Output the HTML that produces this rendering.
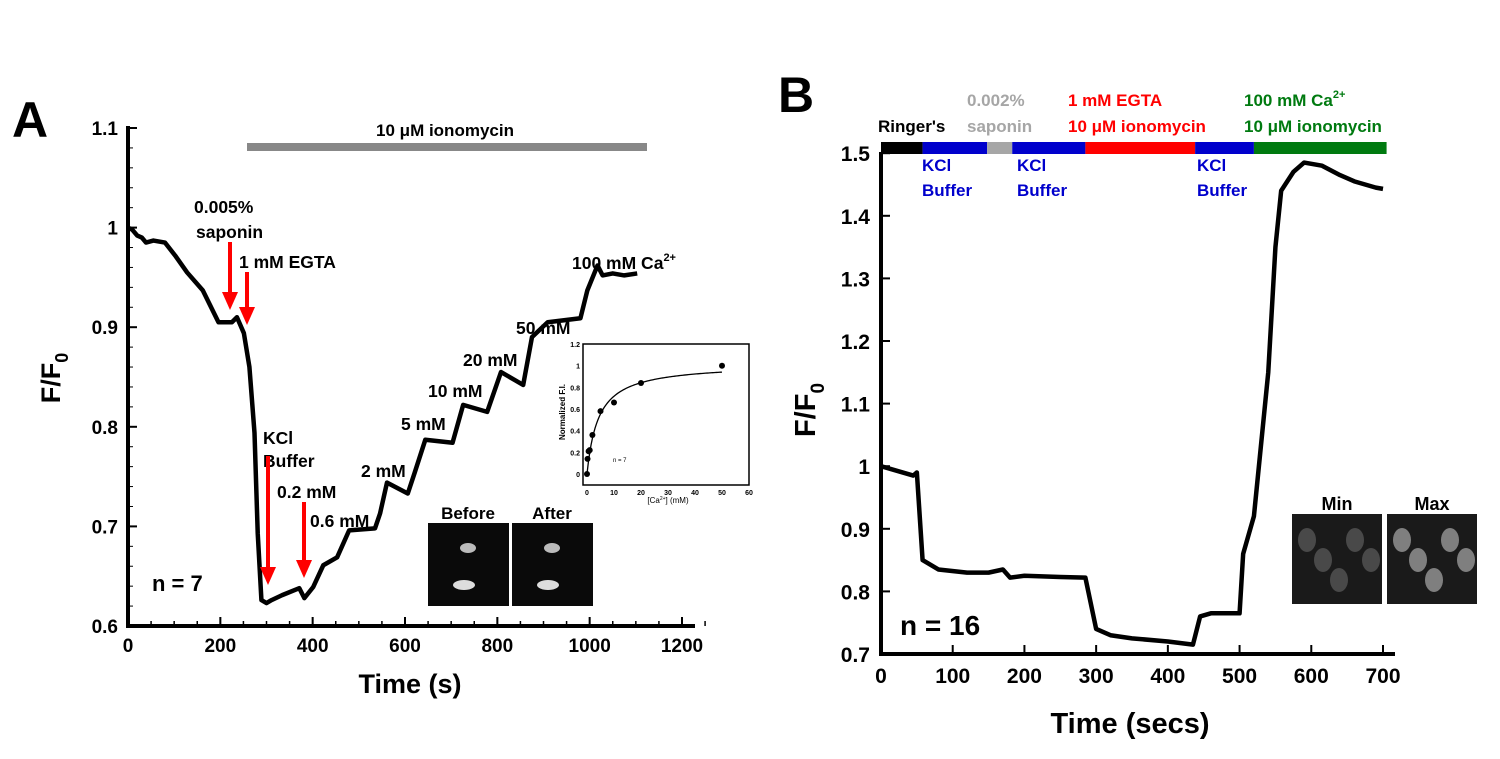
<!DOCTYPE html>
<html><head><meta charset="utf-8"><style>
body{margin:0;background:#fff;width:1500px;height:754px;overflow:hidden}
svg{font-family:"Liberation Sans",Arial,sans-serif;font-weight:bold}
</style></head><body>
<svg id="s" width="1500" height="754">
<text x="12" y="137" font-size="50">A</text>
<text x="778" y="112" font-size="50">B</text>
<g id="A"></g>
<g id="B"></g>
</svg>
<script>
// Panel A data
const aTime=[0,9,20,30,39,55,80,102,128,162,196,225,236,251,263,274,281,289,300,311,334,371,382,401,423,453,479,535,546,561,606,621,644,703,726,778,808,856,875,909,980,995,1017,1028,1050,1075,1103];
const aVal=[1.0,0.998,0.992,0.99,0.985,0.987,0.985,0.972,0.955,0.937,0.905,0.905,0.91,0.894,0.86,0.794,0.693,0.626,0.623,0.626,0.631,0.638,0.628,0.639,0.661,0.669,0.696,0.698,0.713,0.744,0.733,0.754,0.787,0.784,0.822,0.815,0.855,0.842,0.89,0.905,0.909,0.937,0.962,0.952,0.954,0.952,0.954];
const aXTicks=[0,200,400,600,800,1000,1200];
const aYTicks=[0.6,0.7,0.8,0.9,1,1.1];
// Inset data
const inConc=[0,0.2,0.6,1,2,5,10,20,50];
const inVal=[0,0.14,0.21,0.22,0.36,0.58,0.66,0.84,1.0];
const inXTicks=[0,10,20,30,40,50,60];
const inYTicks=[0,0.2,0.4,0.6,0.8,1,1.2];
// Panel B data
const bTime=[0,45,50,58,80,120,150,170,180,200,250,285,300,320,350,400,435,445,460,500,505,520,540,550,558,575,590,615,640,660,690,700];
const bVal=[1.0,0.985,0.99,0.85,0.835,0.83,0.83,0.835,0.822,0.825,0.823,0.822,0.74,0.73,0.725,0.72,0.715,0.76,0.765,0.765,0.86,0.92,1.15,1.35,1.44,1.47,1.485,1.48,1.465,1.455,1.445,1.443];
const bXTicks=[0,100,200,300,400,500,600,700];
const bYTicks=[0.7,0.8,0.9,1,1.1,1.2,1.3,1.4,1.5];

const NS="http://www.w3.org/2000/svg";
function mk(p,t,a,txt){const e=document.createElementNS(NS,t);for(const k in a)e.setAttribute(k,a[k]);if(txt!==undefined)e.innerHTML=txt;p.appendChild(e);return e;}
const A=document.getElementById('A'),B=document.getElementById('B');
const ax=t=>128+t*554/1200, ay=v=>626-(v-0.6)*996;
const bx=t=>881+t*502/700, by=v=>654-(v-0.7)*626;
const ix=c=>587+c*162/60, iy=v=>474-v*108.3;

let e;
e=mk(A,'line',{x1:128,y1:126,x2:128,y2:628,stroke:'#000','stroke-width':4});


e=mk(A,'line',{x1:126,y1:626,x2:695,y2:626,stroke:'#000','stroke-width':4});


for(let t=0;t<=1250;t+=50)mk(A,'line',{x1:ax(t),y1:626,x2:ax(t),y2:t%200==0?617:621,stroke:'#000','stroke-width':1.5});
for(let v=0.6;v<=1.1;v+=0.02)mk(A,'line',{x1:128,y1:ay(v),x2:133,y2:ay(v),stroke:'#000','stroke-width':1});
aXTicks.forEach(t=>{mk(A,'line',{x1:ax(t),y1:626,x2:ax(t),y2:617,stroke:'#000','stroke-width':2});
e=mk(A,'text',{x:ax(t),y:652,'font-size':19,'text-anchor':'middle'},t);

});
aYTicks.forEach(v=>{mk(A,'line',{x1:128,y1:ay(v),x2:137,y2:ay(v),stroke:'#000','stroke-width':2});
e=mk(A,'text',{x:118,y:ay(v)+7,'font-size':19,'text-anchor':'end'},String(v));

});
e=mk(A,'text',{x:410,y:693,'font-size':27,'text-anchor':'middle'},'Time (s)');


e=mk(A,'text',{transform:'translate(60,378) rotate(-90)','font-size':27,'text-anchor':'middle'},'F/F<tspan font-size="18" dy="8">0</tspan>');


e=mk(A,'rect',{x:247,y:143,width:400,height:8,fill:'#888'});


mk(A,'text',{x:445,y:136,'font-size':17,'text-anchor':'middle'},'10 μM ionomycin');
e=mk(A,'polyline',{points:aTime.map((t,i)=>ax(t)+','+ay(aVal[i])).join(' '),fill:'none',stroke:'#000','stroke-width':4.5,'stroke-linejoin':'round'});


const labs=[[194,213,'0.005%'],[196,238,'saponin'],[239,268,'1 mM EGTA'],[263,444,'KCl'],[263,467,'Buffer'],[277,498,'0.2 mM'],[310,527,'0.6 mM'],[361,477,'2 mM'],[401,430,'5 mM'],[428,397,'10 mM'],[463,366,'20 mM'],[516,334,'50 mM']];
labs.forEach(l=>{e=mk(A,'text',{x:l[0],y:l[1],'font-size':17.5},l[2]);

});
mk(A,'text',{x:572,y:269,'font-size':17.5},'100 mM Ca<tspan font-size="11" dy="-8">2+</tspan>');
mk(A,'text',{x:152,y:591,'font-size':22},'n = 7');
function arrow(x,y1,y2){mk(A,'line',{x1:x,y1:y1,x2:x,y2:y2-12,stroke:'#f00','stroke-width':4});mk(A,'polygon',{points:`${x-8},${y2-18} ${x+8},${y2-18} ${x},${y2}`,fill:'#f00'});}
arrow(230,242,310);arrow(247,272,325);arrow(268,456,585);arrow(304,502,578);
[[428,'Before'],[512,'After']].forEach(p=>{e=mk(A,'rect',{x:p[0],y:523,width:81,height:83,fill:'#0a0a0a'});


mk(A,'ellipse',{cx:p[0]+40,cy:548,rx:8,ry:5,fill:'#bbb'});mk(A,'ellipse',{cx:p[0]+36,cy:585,rx:11,ry:5,fill:'#ddd'});
mk(A,'text',{x:p[0]+40,y:519,'font-size':17,'text-anchor':'middle'},p[1]);});
mk(A,'line',{x1:510,y1:523,x2:510,y2:606,stroke:'#fff','stroke-width':2});
e=mk(A,'rect',{x:583,y:344,width:166,height:141,fill:'#fff',stroke:'#000','stroke-width':1.5});


inXTicks.forEach(t=>mk(A,'text',{x:ix(t),y:495,'font-size':7,'text-anchor':'middle'},t));
inYTicks.forEach(v=>mk(A,'text',{x:580,y:iy(v)+3,'font-size':7,'text-anchor':'end'},v));
mk(A,'text',{x:668,y:503,'font-size':8,'text-anchor':'middle','font-weight':'normal'},'[Ca<tspan font-size="5" dy="-3">2+</tspan><tspan dy="3">] (mM)</tspan>');
mk(A,'text',{transform:'translate(565,412) rotate(-90)','font-size':8,'text-anchor':'middle'},'Normalized F.I.');
mk(A,'text',{x:613,y:462,'font-size':6,'font-weight':'normal'},'n = 7');
let fit=[];for(let c=0;c<=50;c+=0.5){fit.push(ix(c)+','+iy(1.02*c/(c+4.2)));}
mk(A,'polyline',{points:fit.join(' '),fill:'none',stroke:'#000','stroke-width':1.3});
inConc.forEach((c,i)=>{e=mk(A,'circle',{cx:ix(c),cy:iy(inVal[i]),r:3,fill:'#000'});

});

const seg=[[0,58,'#000'],[58,148,'#0000cc'],[148,183,'#a6a6a6'],[183,285,'#0000cc'],[285,438,'#f00'],[438,520,'#0000cc'],[520,705,'#007a10']];
seg.forEach(s=>{e=mk(B,'rect',{x:bx(s[0]),y:142,width:bx(s[1])-bx(s[0]),height:12,fill:s[2]});

});
const bl=[[878,132,"Ringer's",'#000'],[967,106,'0.002%','#a6a6a6'],[967,132,'saponin','#a6a6a6'],[1068,106,'1 mM EGTA','#f00'],[1068,132,'10 μM ionomycin','#f00'],[1244,132,'10 μM ionomycin','#007a10'],
[922,171,'KCl','#0000cc'],[922,196,'Buffer','#0000cc'],[1017,171,'KCl','#0000cc'],[1017,196,'Buffer','#0000cc'],[1197,171,'KCl','#0000cc'],[1197,196,'Buffer','#0000cc']];
bl.forEach(l=>{e=mk(B,'text',{x:l[0],y:l[1],'font-size':17,fill:l[3]},l[2]);

});
mk(B,'text',{x:1244,y:106,'font-size':17,fill:'#007a10'},'100 mM Ca<tspan font-size="11" dy="-8">2+</tspan>');
e=mk(B,'line',{x1:881,y1:152,x2:881,y2:656,stroke:'#000','stroke-width':4});


e=mk(B,'line',{x1:879,y1:654,x2:1395,y2:654,stroke:'#000','stroke-width':4});


bXTicks.forEach(t=>{mk(B,'line',{x1:bx(t),y1:654,x2:bx(t),y2:645,stroke:'#000','stroke-width':2});
e=mk(B,'text',{x:bx(t),y:683,'font-size':21,'text-anchor':'middle'},t);

});
bYTicks.forEach(v=>{mk(B,'line',{x1:881,y1:by(v),x2:890,y2:by(v),stroke:'#000','stroke-width':2});
e=mk(B,'text',{x:870,y:by(v)+8,'font-size':21,'text-anchor':'end'},String(v));

});
e=mk(B,'text',{x:1130,y:733,'font-size':29,'text-anchor':'middle'},'Time (secs)');


e=mk(B,'text',{transform:'translate(815,410) rotate(-90)','font-size':29,'text-anchor':'middle'},'F/F<tspan font-size="19" dy="9">0</tspan>');


e=mk(B,'polyline',{points:bTime.map((t,i)=>bx(t)+','+by(bVal[i])).join(' '),fill:'none',stroke:'#000','stroke-width':4.5,'stroke-linejoin':'round'});


mk(B,'text',{x:900,y:635,'font-size':28},'n = 16');
[[1292,'Min','#555'],[1387,'Max','#999']].forEach(p=>{e=mk(B,'rect',{x:p[0],y:514,width:90,height:90,fill:'#1a1a1a'});


for(let i=0;i<5;i++)mk(B,'ellipse',{cx:p[0]+15+i*16,cy:540+(i%3)*20,rx:9,ry:12,fill:p[2],opacity:0.8});
mk(B,'text',{x:p[0]+45,y:510,'font-size':18,'text-anchor':'middle'},p[1]);});
</script>
</body></html>
